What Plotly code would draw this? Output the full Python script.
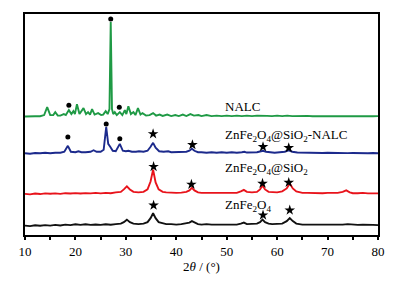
import plotly.graph_objects as go

# ---------------- data (2theta in degrees, intensity in a.u.) ----------------
zf_x = [10, 11, 12, 13, 14, 15, 16, 17, 18, 19, 20, 21, 22, 23, 24, 25, 26, 27, 28, 29, 29.6, 30.2, 30.8, 31.5,
        32.5, 33.5, 34.3, 34.9, 35.4, 35.9, 36.5, 37.3, 38, 39, 40, 41, 42, 42.6, 43.1, 43.6, 44.3, 45, 46, 47,
        48, 49, 50, 51, 52, 52.8, 53.4, 54, 55, 56, 56.6, 57.1, 57.6, 58.3, 59, 60, 61, 61.9, 62.5, 63.1, 63.8,
        65, 66, 67, 68, 69, 70, 71, 72, 73, 74, 75, 76, 77, 78, 79, 80]
zf_y = [0.5, 0, 0.8, 0.3, 1, 0.5, 1.2, 0.6, 1.5, 1, 1.8, 1.2, 1.8, 1.2, 1.6, 1.2, 1.8, 1.4, 2, 2.5, 4, 6.5, 4, 2.5,
        2, 2.5, 4, 8, 13, 8, 4, 2.5, 2, 2, 1.5, 2, 2.5, 3.5, 5, 3.5, 2, 1.5, 2, 1.5,
        1.8, 1.5, 1.5, 1.8, 1.5, 2.5, 3.5, 2, 2, 2.5, 4, 6.5, 4, 2.5, 2, 2, 2.5, 5, 8, 5, 2.5,
        1.5, 1.5, 1.5, 1.2, 1.5, 1, 1.2, 1.5, 1.5, 2, 1.5, 1.2, 1.5, 1, 1.2, 1]

zs_x = [10, 11, 12, 13, 14, 15, 16, 17, 18, 19, 20, 21, 22, 23, 24, 25, 26, 27, 28, 29, 29.6, 30.2, 30.8, 31.5,
        32.5, 33.5, 34.3, 34.9, 35.4, 35.9, 36.5, 37.3, 38, 39, 40, 41, 42, 42.6, 43.1, 43.6, 44.3, 45, 46, 47,
        48, 49, 50, 51, 52, 52.8, 53.4, 54, 55, 56, 56.6, 57.1, 57.6, 58.3, 59, 60, 61, 61.9, 62.5, 63.1, 63.8,
        65, 66, 67, 68, 69, 70, 71, 72, 73, 73.7, 74.4, 75, 76, 77, 78, 79, 80]
zs_y = [0.5, 0, 0.8, 0.3, 1, 0.6, 1, 0.5, 1.2, 0.8, 1.3, 0.8, 1.3, 1, 1.5, 1, 1.5, 1.2, 2, 2.5, 5, 8, 5, 2.5,
        2, 2.5, 5, 13, 25, 12, 5, 2.5, 2, 1.5, 1.5, 1.8, 2.5, 4, 6.5, 4, 2, 1.5, 1.5, 1.2,
        1.5, 1.2, 1.5, 1.5, 1.5, 3, 4.5, 2.5, 2, 2.5, 5, 9, 5, 2.5, 2, 2, 3, 6, 11, 6, 3,
        1.5, 1.5, 1.2, 1.5, 1.2, 1.5, 1.2, 1.5, 2.5, 4, 2, 1.2, 1.2, 1.5, 1, 1.2, 1]

zsn_x = [10, 11, 12, 13, 14, 15, 16, 17, 17.8, 18.5, 19.1, 20, 20.6, 21.2, 22, 23, 23.6, 24.2, 25, 25.6, 26.1,
         26.5, 26.9, 27.4, 28, 28.8, 29.4, 30, 30.5, 31.2, 32, 32.6, 33.5, 34.3, 34.9, 35.4, 35.9, 36.6, 37.5,
         38.4, 39, 40, 41, 42, 42.6, 43.1, 43.6, 44.3, 45, 46, 47, 48, 49, 50, 51, 52, 53, 53.5, 54, 55, 56,
         56.8, 57.2, 57.8, 58.5, 59.5, 60.5, 61.5, 62.3, 63, 64, 65, 66, 67, 68, 69, 70, 71, 72, 73, 74, 75,
         76, 77, 78, 79, 80]
zsn_y = [0.5, 0, 0.8, 0.5, 1, 0.5, 1, 1, 2, 8, 2, 1.5, 2.5, 1.5, 1.5, 2, 3.5, 2, 2, 4, 27,
         10, 7, 3, 2.5, 10, 3, 2.5, 3, 2, 2, 2.5, 2, 3, 7, 11, 6, 2.5, 2,
         2.5, 1.5, 1.5, 1.5, 2, 3, 5, 3, 1.5, 1.5, 1, 1.5, 1, 1.5, 1, 1.5, 1, 1.5, 2, 1.2, 1, 1.5,
         2.5, 3, 2, 1.5, 1, 1.5, 2, 3.5, 2, 1.2, 1, 1, 0.8, 1, 0.7, 1, 0.8, 0.8, 1, 0.6, 0.8,
         0.5, 0.8, 0.5, 0.8, 0.5]

nalc_x = [10, 11, 12, 13, 13.8, 14.4, 15, 15.6, 16.0, 16.5, 17, 17.7, 18.1, 18.7, 19.2, 19.6, 19.9, 20.3, 20.8,
          21.6, 22.1, 22.5, 22.9, 23.3, 23.8, 24.5, 25.1, 25.5, 26.0, 26.4, 26.75, 27.0, 27.25, 27.5, 27.8, 28.2,
          28.8, 29.3, 29.8, 30.1, 30.5, 31, 31.5, 31.9, 32.4, 32.9, 33.3, 34, 34.7, 35.4, 36, 36.7, 37.3, 38.2,
          39, 39.8, 40.5, 41.3, 42, 42.8, 43.5, 44.4, 45, 46, 47, 48, 49, 50, 51, 52, 53, 54, 55, 56, 57, 58,
          59, 60, 61, 62, 63, 64, 65, 66, 67, 68, 69, 70, 71, 72, 73, 74, 75, 76, 77, 78, 79, 80]
nalc_y = [0.5, 0.3, 0.8, 0.8, 2, 10, 2, 2, 5, 1.5, 1.5, 3, 2, 7, 3, 6, 3, 13, 3,
          9, 3, 5, 2.5, 8, 2.5, 4, 2, 2.5, 6, 3, 8, 96, 8, 3, 5, 2,
          5, 2, 7, 3, 11, 3, 5, 2, 9, 2.5, 4, 1.5, 2, 4, 1.5, 2.5, 1.2, 2.5,
          1, 2, 1, 2.5, 1, 3, 1.5, 2, 1, 2, 1, 1.5, 1, 1.5, 1, 1.5, 1, 1.5, 1, 1.5, 1, 1.2,
          1, 1.5, 1, 1.5, 1, 1.2, 1, 1.2, 0.8, 1, 0.8, 1, 0.8, 1, 0.8, 1, 0.8, 1, 0.8, 1, 0.8, 1]

series_names = ["ZnFe<sub>2</sub>O<sub>4</sub>",
                "ZnFe<sub>2</sub>O<sub>4</sub>@SiO<sub>2</sub>",
                "ZnFe<sub>2</sub>O<sub>4</sub>@SiO<sub>2</sub>-NALC",
                "NALC"]
offsets = [9, 41, 82, 119]

# peak markers: (2theta, height above that pattern's baseline)
dot_x = {2: [18.5, 26.1, 28.8], 3: [18.7, 27.0, 28.7]}
dot_h = {2: [17, 30, 15], 3: [12, 99, 10]}
star_x = {0: [35.5, 57.2, 62.5], 1: [35.5, 43.0, 57.1, 62.3], 2: [35.4, 43.2, 57.2, 62.3]}
star_h = {0: [21, 11, 16], 1: [28, 10, 11, 12], 2: [20, 9, 7, 6]}

x_ticks = [10, 20, 30, 40, 50, 60, 70, 80]

# ---------------- figure ----------------
colors = ["#111111", "#e8131b", "#1c2a8c", "#1f9a45"]
xs = [zf_x, zs_x, zsn_x, nalc_x]
ys = [zf_y, zs_y, zsn_y, nalc_y]

fig = go.Figure()
for i in range(4):
    fig.add_trace(go.Scatter(x=xs[i], y=[v + offsets[i] for v in ys[i]], mode="lines",
                             line=dict(color=colors[i], width=1.9), showlegend=False,
                             hoverinfo="skip"))
for i, xv in dot_x.items():
    fig.add_trace(go.Scatter(x=xv, y=[h + offsets[i] for h in dot_h[i]], mode="markers",
                             marker=dict(symbol="circle", size=5, color="black"), showlegend=False))
for i, xv in star_x.items():
    fig.add_trace(go.Scatter(x=xv, y=[h + offsets[i] for h in star_h[i]], mode="markers",
                             marker=dict(symbol="star", size=8, color="black"), showlegend=False))

label_y = [30, 67, 100, 130]
for i in range(4):
    fig.add_annotation(x=49.2, y=label_y[i], text=series_names[i], showarrow=False,
                       xanchor="left", yanchor="middle",
                       font=dict(family="Liberation Serif", size=13, color="black"))

# the page body has an 8 px margin, so the figure is 8 px smaller and margins shifted
fig.update_layout(
    width=394, height=274,
    margin=dict(l=17, r=24, t=4, b=47),
    paper_bgcolor="white", plot_bgcolor="white",
    font=dict(family="Liberation Serif", size=12, color="black"),
    xaxis=dict(range=[10, 80], tickvals=x_ticks, ticks="outside", ticklen=3, tickwidth=2,
               tickcolor="black", minor=dict(dtick=5, tick0=10, ticks="outside", ticklen=3, tickwidth=2,
                                             tickcolor="black"),
               showline=True, linecolor="black", linewidth=2, mirror=True, showgrid=False, zeroline=False,
               tickfont=dict(family="Liberation Serif", size=13),
               title=dict(text="2<i>θ</i> / (°)", font=dict(family="Liberation Serif", size=13), standoff=4)),
    yaxis=dict(range=[0, 223], showticklabels=False, ticks="", showline=True, linecolor="black",
               linewidth=2, mirror=True, showgrid=False, zeroline=False),
)

fig.write_html("out.html")
